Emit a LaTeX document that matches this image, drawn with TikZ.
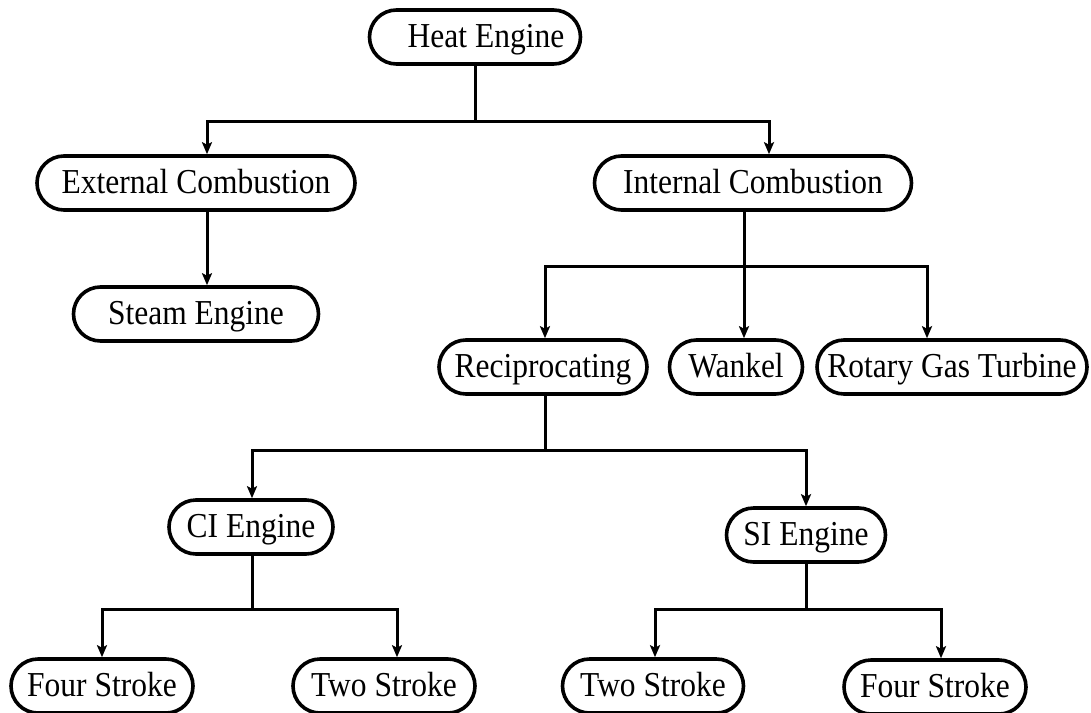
\documentclass[tikz,border=0pt]{standalone}
\usepackage{fontspec}
\setmainfont{Liberation Serif}[FakeStretch=0.9]
\usetikzlibrary{shapes.misc,arrows.meta}
\tikzset{
  box/.style={draw=black, line width=3.6pt, rounded rectangle, minimum height=54pt,
    inner sep=0pt, text height=26pt, text depth=6pt,
    font=\fontsize{35}{40}\selectfont, fill=white},
  arr/.style={line width=3pt, -{Stealth[length=12pt,width=10pt,inset=2.5pt]}},
  ln/.style={line width=3pt}
}
\begin{document}
\begin{tikzpicture}[x=1pt,y=-1pt]
\useasboundingbox (0,0) rectangle (1091,712);
% nodes
\node[box, minimum width=211pt] (heat) at (475,37) {\hspace*{22pt}Heat Engine};
\node[box, minimum width=318pt] (ext) at (196,183) {External Combustion};
\node[box, minimum width=245pt] (steam) at (196,314) {Steam Engine};
\node[box, minimum width=317pt] (int) at (753,183) {Internal Combustion};
\node[box, minimum width=208pt] (recip) at (543,367) {Reciprocating};
\node[box, minimum width=133pt] (wankel) at (736,367) {Wankel};
\node[box, minimum width=270pt] (rotary) at (952,367) {Rotary Gas Turbine};
\node[box, minimum width=164pt] (ci) at (251,527) {CI Engine};
\node[box, minimum width=159pt] (si) at (806,535) {SI Engine};
\node[box, minimum width=182pt] (fsL) at (102,686) {Four Stroke};
\node[box, minimum width=182pt] (tsL) at (384,686) {Two Stroke};
\node[box, minimum width=181pt] (tsR) at (653,686) {Two Stroke};
\node[box, minimum width=182pt] (fsR) at (935,687) {Four Stroke};
% junctions
\coordinate (j1) at (475,121);
\coordinate (j2) at (744,266);
\coordinate (j3) at (545,450);
\coordinate (j4) at (252,609);
\coordinate (j5) at (806,609);
% connectors
\draw[ln] (heat.south) -- (j1);
\draw[arr] (j1) -| ([xshift=11pt]ext.north);
\draw[arr] (j1) -| ([xshift=16pt]int.north);
\draw[arr] ([xshift=11pt]ext.south) -- ([xshift=11pt]steam.north);
\draw[ln] ([xshift=-9pt]int.south) -- (j2);
\draw[arr] (j2) -| ([xshift=2pt]recip.north);
\draw[arr] (j2) -- ([xshift=8pt]wankel.north);
\draw[arr] (j2) -| ([xshift=-25pt]rotary.north);
\draw[ln] ([xshift=2pt]recip.south) -- (j3);
\draw[arr] (j3) -| ([xshift=1pt]ci.north);
\draw[arr] (j3) -| (si.north);
\draw[ln] ([xshift=1pt]ci.south) -- (j4);
\draw[arr] (j4) -| (fsL.north);
\draw[arr] (j4) -| ([xshift=13pt]tsL.north);
\draw[ln] (si.south) -- (j5);
\draw[arr] (j5) -| ([xshift=2pt]tsR.north);
\draw[arr] (j5) -| ([xshift=6pt]fsR.north);
\end{tikzpicture}
\end{document}
